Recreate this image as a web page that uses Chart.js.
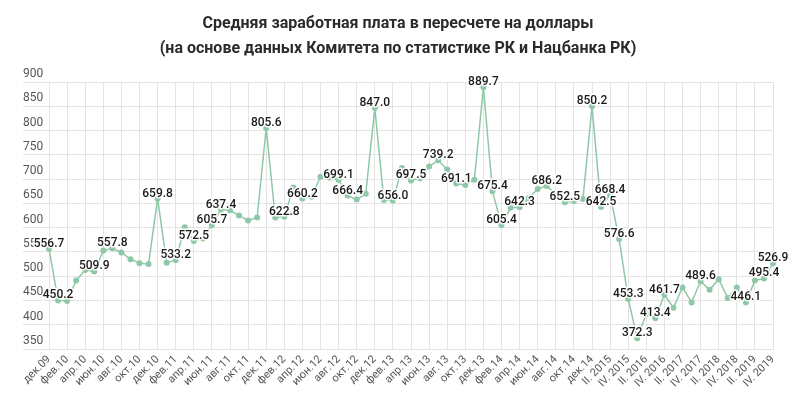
<!DOCTYPE html>
<html lang="ru">
<head>
<meta charset="utf-8">
<script src="https://cdn.jsdelivr.net/npm/chart.js@4"></script>
<style>
  html, body { margin: 0; padding: 0; background: #fff; }
  #wrap { width: 800px; height: 393px; }
</style>
</head>
<body>
<div id="wrap"><canvas id="salaryChart"></canvas></div>
<script>
// подписи оси X: помесячно до дек.14, дальше поквартально
const periods = [
  'дек.09',
  'янв.10', 'фев.10', 'мар.10', 'апр.10', 'май.10', 'июн.10', 'июл.10', 'авг.10', 'сен.10', 'окт.10', 'ноя.10', 'дек.10',
  'янв.11', 'фев.11', 'мар.11', 'апр.11', 'май.11', 'июн.11', 'июл.11', 'авг.11', 'сен.11', 'окт.11', 'ноя.11', 'дек.11',
  'янв.12', 'фев.12', 'мар.12', 'апр.12', 'май.12', 'июн.12', 'июл.12', 'авг.12', 'сен.12', 'окт.12', 'ноя.12', 'дек.12',
  'янв.13', 'фев.13', 'мар.13', 'апр.13', 'май.13', 'июн.13', 'июл.13', 'авг.13', 'сен.13', 'окт.13', 'ноя.13', 'дек.13',
  'янв.14', 'фев.14', 'мар.14', 'апр.14', 'май.14', 'июн.14', 'июл.14', 'авг.14', 'сен.14', 'окт.14', 'ноя.14', 'дек.14',
  'I. 2015', 'II. 2015', 'III. 2015', 'IV. 2015',
  'I. 2016', 'II. 2016', 'III. 2016', 'IV. 2016',
  'I. 2017', 'II. 2017', 'III. 2017', 'IV. 2017',
  'I. 2018', 'II. 2018', 'III. 2018', 'IV. 2018',
  'I. 2019', 'II. 2019', 'III. 2019', 'IV. 2019'
];

// средняя зарплата, долл.
const salaryUsd = [
  556.7,
  450.2, 449, 491, 513, 509.9, 553, 557.8, 549, 535, 527, 525, 659.8,
  528, 533.2, 601, 572.5, 578, 605.7, 637.4, 636, 625, 615, 621, 805.6,
  621, 622.8, 683, 660.2, 664, 705, 703, 699.1, 666.4, 658, 670, 847.0,
  657, 656.0, 723, 697.5, 702, 726, 739.2, 720, 691.1, 688, 699, 889.7,
  675.4, 605.4, 641, 642.3, 661, 680, 686.2, 669, 652.5, 655, 659, 850.2,
  642.5, 668.4, 576.6, 453.3,
  372.3, 422, 413.4, 461.7,
  435, 477, 446, 489.6,
  472, 494, 455, 477,
  446.1, 491, 495.4, 526.9
];

// у каких точек подпись со значением
const labeledPoints = [0, 1, 5, 7, 12, 14, 16, 18, 19, 24, 26, 28, 32, 33, 36, 38, 40, 43, 45,
  48, 49, 50, 52, 55, 57, 60, 61, 62, 63, 64, 65, 67, 68, 72, 77, 79, 80];

const yTicks = { min: 350, max: 900, step: 50 };

const GREEN = '#8fc8a7';
const GRID = '#e3e3e3';

Chart.defaults.font.family = 'Roboto, "Noto Sans", sans-serif';

// подписи значений над точками
const valueLabels = {
  id: 'valueLabels',
  afterDatasetsDraw(chart) {
    const ctx = chart.ctx;
    const meta = chart.getDatasetMeta(0);
    ctx.save();
    ctx.font = '500 12px Roboto, sans-serif';
    ctx.textAlign = 'center';
    ctx.textBaseline = 'bottom';
    ctx.lineJoin = 'round';
    labeledPoints.forEach(i => {
      const pt = meta.data[i];
      const txt = salaryUsd[i].toFixed(1);
      ctx.strokeStyle = 'rgba(255,255,255,0.9)';
      ctx.lineWidth = 3;
      ctx.strokeText(txt, pt.x, pt.y + 1);
      ctx.fillStyle = '#1a1a1a';
      ctx.fillText(txt, pt.x, pt.y + 1);
    });
    ctx.restore();
  }
};

new Chart(document.getElementById('salaryChart'), {
  type: 'line',
  data: {
    labels: periods,
    datasets: [{
      data: salaryUsd,
      borderColor: GREEN,
      backgroundColor: GREEN,
      borderWidth: 1.5,
      pointRadius: 3,
      pointBorderWidth: 0,
      pointBackgroundColor: GREEN,
      tension: 0,
      clip: false
    }]
  },
  options: {
    responsive: true,
    maintainAspectRatio: false,
    animation: false,
    layout: { padding: { left: 23, right: 27, bottom: 2 } },
    plugins: {
      legend: { display: false },
      tooltip: { enabled: false },
      title: {
        display: true,
        text: ['Средняя заработная плата в пересчете на доллары',
               '(на основе данных Комитета по статистике РК и Нацбанка РК)'],
        color: '#2b2b2b',
        font: { size: 16, weight: 'bold', lineHeight: 1.6 },
        padding: { top: 11, bottom: 20 }
      }
    },
    scales: {
      x: {
        grid: {
          color: c => (c.index % 2 === 0 ? GRID : 'rgba(0,0,0,0)'),
          drawTicks: false
        },
        border: { color: GRID },
        ticks: {
          autoSkip: false,
          maxRotation: 45,
          minRotation: 45,
          padding: 4,
          color: '#555',
          font: { size: 11 },
          callback: function (v, i) { return i % 2 === 0 ? this.getLabelForValue(v) : ''; }
        },
        afterFit(scale) { scale.height = 42; }
      },
      y: {
        min: yTicks.min,
        max: yTicks.max,
        grid: { color: GRID, tickLength: 26, tickColor: GRID },
        border: { display: false },
        ticks: {
          stepSize: yTicks.step,
          crossAlign: 'far',
          labelOffset: -8,
          color: '#555',
          font: { size: 12 }
        },
        afterFit(scale) { scale.width = 26; }
      }
    }
  },
  plugins: [valueLabels]
});
</script>
</body>
</html>
